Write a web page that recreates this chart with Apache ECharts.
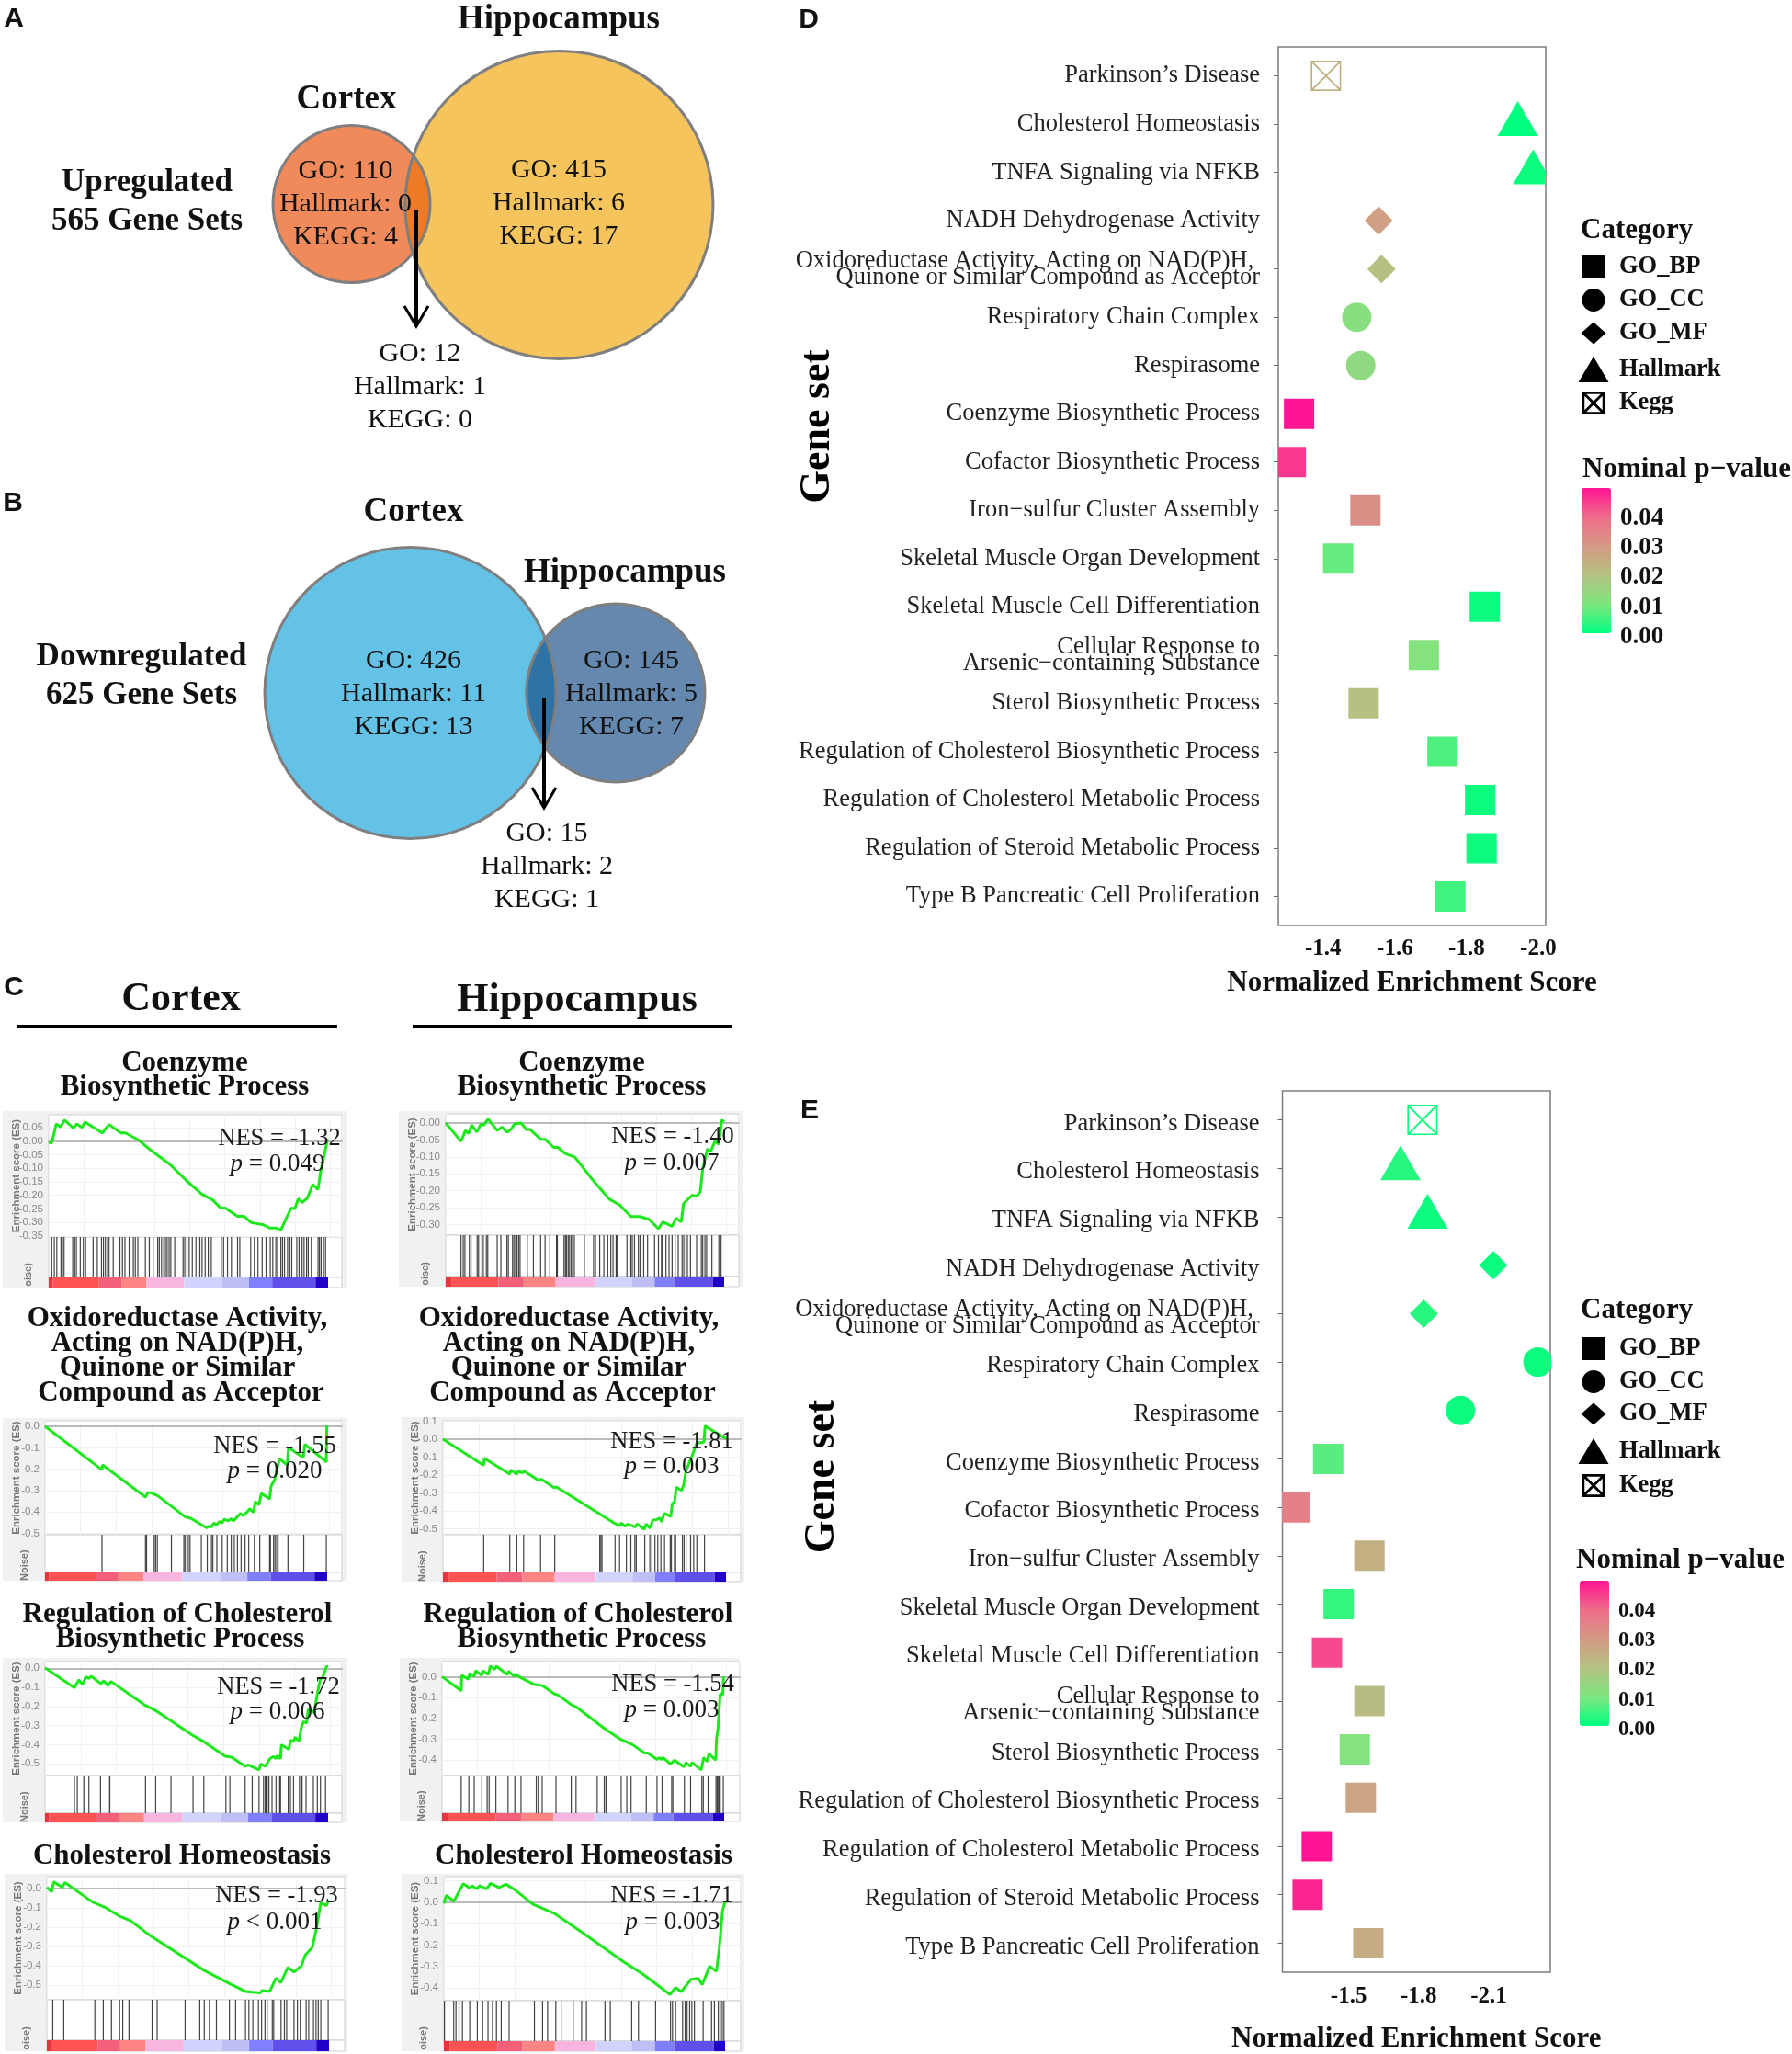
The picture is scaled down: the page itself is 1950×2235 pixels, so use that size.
<!DOCTYPE html>
<html><head><meta charset="utf-8"><style>html,body{margin:0;padding:0;background:#fff}#c{width:1950px;height:2235px}</style>
<script src="https://cdn.jsdelivr.net/npm/echarts@6/dist/echarts.min.js"></script></head><body><div id="c"></div>
<script>
// ---------- Gene-set dot plots (panels D, E) ----------
const geneSets = ["Parkinson’s Disease","Cholesterol Homeostasis","TNFA Signaling via NFKB","NADH Dehydrogenase Activity","Oxidoreductase Activity, Acting on NAD(P)H,\u00A0\nQuinone or Similar Compound as Acceptor","Respiratory Chain Complex","Respirasome","Coenzyme Biosynthetic Process","Cofactor Biosynthetic Process","Iron−sulfur Cluster Assembly","Skeletal Muscle Organ Development","Skeletal Muscle Cell Differentiation","Cellular Response to\nArsenic−containing Substance","Sterol Biosynthetic Process","Regulation of Cholesterol Biosynthetic Process","Regulation of Cholesterol Metabolic Process","Regulation of Steroid Metabolic Process","Type B Pancreatic Cell Proliferation"];
const geneSetTypes = ["Kegg","Hallmark","Hallmark","GO_MF","GO_MF","GO_CC","GO_CC","GO_BP","GO_BP","GO_BP","GO_BP","GO_BP","GO_BP","GO_BP","GO_BP","GO_BP","GO_BP","GO_BP"];
const cortexNES = [-1.395,-1.93,-1.973,-1.542,-1.55,-1.481,-1.492,-1.32,-1.297,-1.505,-1.429,-1.838,-1.668,-1.50,-1.72,-1.825,-1.829,-1.742];
const cortexP = [0.024,0.000,0.001,0.028,0.020,0.012,0.013,0.049,0.045,0.032,0.008,0.001,0.011,0.020,0.006,0.001,0.001,0.005];
const hippoNES = [-1.804,-1.71,-1.826,-2.108,-1.81,-2.299,-1.967,-1.40,-1.257,-1.577,-1.445,-1.395,-1.577,-1.514,-1.54,-1.351,-1.312,-1.572];
const hippoP = [0.001,0.003,0.001,0.001,0.003,0.001,0.001,0.007,0.035,0.024,0.004,0.043,0.021,0.011,0.027,0.049,0.047,0.025];
const pTicks = [0,0.01,0.02,0.03,0.04];
const categoryNames = ["GO_BP","GO_CC","GO_MF","Hallmark","Kegg"];
const cortexXTicks = [-1.4,-1.6,-1.8,-2.0], cortexXMinor = [-1.3,-1.5,-1.7,-1.9];
const hippoXTicks = [-1.5,-1.8,-2.1], hippoXMinor = [-1.35,-1.65,-1.95,-2.25];

// ---------- Venn counts (panels A, B) ----------
const upCortex = ["GO: 110","Hallmark: 0","KEGG: 4"], upHippo = ["GO: 415","Hallmark: 6","KEGG: 17"], upBoth = ["GO: 12","Hallmark: 1","KEGG: 0"];
const downCortex = ["GO: 426","Hallmark: 11","KEGG: 13"], downHippo = ["GO: 145","Hallmark: 5","KEGG: 7"], downBoth = ["GO: 15","Hallmark: 2","KEGG: 1"];

// ---------- GSEA running enrichment score: [rank %, ES] ----------
const curveCtxCoenzyme = [[0,-.005],[1.1,-.007],[2.7,.063],[4.2,.052],[5.7,.077],[8.8,.048],[10.1,.063],[11.9,.05],[13,.07],[19.2,.03],[21.6,.061],[25.8,.03],[27.5,.03],[32.4,.002],[36.3,-.032],[43.4,-.086],[49.5,-.148],[54.9,-.197],[58.8,-.218],[61.5,-.247],[63.2,-.247],[67.6,-.278],[70,-.278],[72.5,-.301],[76.9,-.309],[79.1,-.321],[81.9,-.321],[83,-.331],[84.8,-.29],[86.8,-.247],[88.1,-.25],[89.3,-.213],[90.7,-.227],[92.6,-.21],[94,-.174],[94.5,-.16],[96.4,-.179],[97.3,-.114],[99.1,-.029],[99.8,.007]];
const hitsCtxCoenzyme = [1.1,2,2.9,4.4,4.9,5.5,8.6,9.3,9.9,11.3,12.4,13.2,15.9,17.4,18.9,19.6,20.3,21.1,21.6,23.1,25.5,26.4,27.3,28.8,30.3,31,31.9,34.6,36,37.4,39,39.6,40.4,41.2,41.8,42.4,43.1,43.7,45.1,48.1,48.7,49.5,50.3,51.4,52.7,54.1,54.9,56,57.1,58.2,61.8,62.6,64,65.4,67.6,68.4,72.3,73.6,74.9,76.4,77.8,79.3,80.2,81.3,81.9,83.1,83.7,84.4,85.5,86.3,87,88.8,89.6,90.7,91.4,92.3,92.9,94,96.4,96.9,97.5,98.4,99.1];
const curveHipCoenzyme = [[0,0],[5.5,-.054],[7.1,-.022],[8.2,-.031],[9.3,-.006],[11.2,-.027],[12.6,-.004],[13.7,-.006],[15.2,.012],[18.5,-.022],[20.2,-.012],[22,-.027],[23.6,-.018],[24.7,-.003],[27.1,0],[29.1,-.021],[30.2,-.018],[34.1,-.048],[35.7,-.048],[38.8,-.072],[40.3,-.072],[42.9,-.09],[46.4,-.101],[52.2,-.162],[58.8,-.225],[62.6,-.243],[66.5,-.276],[69.8,-.276],[73.1,-.285],[76.4,-.312],[78,-.292],[81.3,-.305],[82.7,-.281],[84.6,-.292],[85.4,-.238],[88.5,-.213],[90.1,-.216],[91.4,-.204],[92.3,-.135],[94,-.076],[95.1,-.085],[96.7,-.054],[98.1,-.063],[99.2,.009],[100,.003]];
const hitsHipCoenzyme = [5.5,6.3,6.9,8.5,9.1,11.3,11.8,13,13.5,14.6,15.1,18.5,19.8,22,22.5,24,24.5,25.1,25.6,26.2,26.7,29.3,31.5,34.1,35.7,37.4,39.8,40.1,42.5,43,43.4,44,44.5,45.1,45.6,46.2,49.8,53.1,53.8,55.3,56.8,58.2,59.3,60.1,61.2,61.5,65.1,66.5,67,67.8,69.2,69.8,71.1,72.5,75,76.4,77.5,77.8,79.1,80.2,81.3,82.4,83.5,84.9,85.5,86.3,86.8,87.9,90.1,91.8,92.3,93.1,93.7,95.6,98.1,98.9];
const curveCtxOxido = [[0,0],[20.2,-.203],[20.4,-.18],[35.6,-.33],[36.4,-.31],[37.5,-.31],[40,-.324],[49.7,-.423],[51.6,-.429],[57.3,-.474],[58.1,-.466],[59,-.47],[59.8,-.451],[60.8,-.459],[61.9,-.444],[62.7,-.451],[63.6,-.434],[64.9,-.441],[66,-.431],[66.8,-.441],[69.3,-.406],[70.1,-.417],[71.4,-.403],[72.5,-.386],[73.9,-.401],[74.5,-.351],[75.8,-.366],[76.7,-.313],[79.6,-.339],[80.1,-.28],[81.4,-.249],[83.1,-.151],[85.8,-.18],[86.3,-.099],[91.5,-.146],[92.1,-.084],[99.7,-.166],[99.9,.004]];
const hitsCtxOxido = [20.2,35.6,36,38.7,39.2,39.8,44.8,49.2,49.6,50.3,50.8,51.4,55.4,57.5,59,59.5,60.9,62.8,64.6,66,67.1,68.2,69.5,70.9,72.2,74.2,76.1,79.6,79.9,81,81.5,82.1,82.6,86.1,91.7,99.7];
const curveHipOxido = [[0,0],[14.4,-.146],[14.6,-.106],[23.6,-.195],[24,-.171],[26.1,-.197],[26.5,-.178],[28,-.188],[28.7,-.178],[33.9,-.231],[34.7,-.223],[39.3,-.271],[40.1,-.267],[60.5,-.469],[62.6,-.483],[62.9,-.469],[64.5,-.486],[65.3,-.474],[68,-.491],[68.6,-.474],[71.1,-.503],[71.8,-.474],[73.1,-.497],[74.2,-.452],[75.6,-.449],[76.7,-.44],[77.2,-.462],[78.3,-.414],[79.4,-.423],[80.5,-.432],[81,-.36],[81.8,-.354],[82.4,-.269],[84.3,-.286],[85,-.257],[85.9,-.175],[87.5,-.115],[88.6,-.068],[89.7,-.021],[92.2,-.017],[92.6,.074],[100,.003]];
const hitsHipOxido = [14.4,23.6,26.1,28.5,34.5,39.5,55.4,55.8,56.2,60.8,62.4,64.8,66.4,67.8,68.3,71.3,73.1,73.8,74.9,75.9,77,78.3,80.3,80.7,81.8,82.2,84.6,85.2,85.9,87.5,88.6,89.7,92.4];
const curveCtxRegChol = [[0,.003],[10.4,-.102],[11.9,-.061],[13.3,-.085],[14.4,-.045],[15.5,-.053],[16.3,-.042],[19.8,-.081],[20.7,-.065],[22.2,-.09],[23.3,-.069],[35,-.19],[39.3,-.223],[52.3,-.352],[56.1,-.384],[63.7,-.46],[65.9,-.465],[70.7,-.513],[71.8,-.505],[75.6,-.532],[76.2,-.5],[77.8,-.513],[79.4,-.473],[80.8,-.461],[81.6,-.473],[82.1,-.456],[83.2,-.473],[83.5,-.4],[86.1,-.424],[86.8,-.376],[87.9,-.384],[88.3,-.36],[89.7,-.381],[90.5,-.311],[91.3,-.279],[92.4,-.287],[93,-.215],[95.1,-.231],[96.2,-.134],[97.3,-.053],[98,-.053],[99.5,.011],[100,.006]];
const hitsCtxRegChol = [10.4,11.4,13.7,14.1,15.5,19.6,22.3,22.9,35.5,39.1,44.5,52.3,56.1,63.9,65.3,70.7,73.2,75.6,77.2,77.8,78.1,78.5,79.1,80.2,81.6,82.9,83.2,85.9,86.7,87.8,89.9,90.5,90.8,92.2,94.8,96.2,97.3,99.1];
const curveHipRegChol = [[0,0],[6.8,-.068],[7,.006],[9.3,-.012],[9.8,.016],[11.4,.001],[11.9,.028],[14.1,.006],[14.4,.028],[16.4,.01],[17.1,.05],[18.7,.035],[19.3,.05],[23.1,.01],[23.6,.025],[25.6,.001],[26,.013],[28,-.006],[28.5,.001],[32.8,-.038],[35.5,-.043],[39.9,-.083],[41,-.087],[45.8,-.134],[48,-.149],[57.2,-.245],[63.2,-.3],[67.5,-.326],[71.8,-.366],[72.9,-.366],[76.2,-.397],[76.9,-.388],[77.8,-.397],[78.3,-.388],[81,-.419],[82.4,-.4],[85.7,-.432],[86.5,-.412],[88.1,-.43],[88.6,-.412],[91.9,-.447],[92.7,-.388],[94,-.407],[94.6,-.37],[97,-.4],[97.3,-.297],[97.8,-.252],[98.6,-.083],[99.5,-.087],[99.8,.001]];
const hitsHipRegChol = [6.8,9.5,11.4,14.1,16,16.7,19.1,23.4,25.8,28,33.4,34.1,35.5,40.4,45.8,47.5,55,57.5,58.1,63.5,65.5,67,72.4,76.2,78,81.4,81.8,85.9,88.1,92.1,92.6,94.3,97.1,97.5,97.8,98.2,98.6,99.7];
const curveCtxCholHomeo = [[0,.005],[1.7,-.019],[2.4,.033],[5.5,.005],[6.4,.029],[16.2,-.071],[20.5,-.098],[25.6,-.143],[29.6,-.167],[36.8,-.246],[55.8,-.424],[65.2,-.495],[70.4,-.532],[75.6,-.54],[76.4,-.527],[79,-.532],[81.2,-.463],[82.9,-.487],[85.4,-.408],[87.6,-.432],[90.2,-.4],[91.6,-.344],[94.1,-.305],[95.4,-.217],[97.1,-.075],[99.1,-.09],[99.8,-.06]];
const hitsCtxCholHomeo = [2.1,6,17,20,22.9,25.8,26.9,29.1,37.3,39.1,49,54.2,55.8,57.6,60.1,64.7,66.9,70.4,71.6,73,75,76.1,77.3,78.1,79.9,80.4,83,84.2,85,87.6,88.8,89.8,91.9,92.8,94.5,95.4,96.2,97.1,99.7];
const curveHipCholHomeo = [[0,-.006],[.9,.033],[3.5,.004],[6.9,.087],[9.2,.066],[10,.077],[11.8,.062],[12.6,.077],[15.2,.062],[16.6,.088],[19.6,.069],[22.1,.084],[25.6,.055],[31.7,-.01],[39.4,-.053],[49.8,-.147],[63.7,-.277],[70.6,-.335],[75.8,-.386],[80.4,-.432],[82.4,-.4],[84.4,-.419],[87.9,-.361],[90.5,-.357],[91.9,-.386],[94.5,-.299],[96.9,-.324],[97.9,-.22],[99.1,-.039],[100,.004]];
const hitsHipCholHomeo = [.2,3.5,4.3,5.4,6.6,9.2,11.9,13.8,15.7,17.3,18.7,20.4,23.2,32.2,35.1,36.9,39.8,41.7,46,49,50.7,57.3,59.2,66.8,69.2,75.3,80.6,81.3,82.4,84.9,85.8,86.5,87.4,88.2,89.1,92.2,95.2,96.2,97.6,98.3,99,99.6];
const esTicks2 = [0.05,0,-0.05,-0.10,-0.15,-0.20,-0.25,-0.30,-0.35], esTicks3 = [0,-0.05,-0.10,-0.15,-0.20,-0.25,-0.30];
const esTicks4 = [0,-0.1,-0.2,-0.3,-0.4,-0.5], esTicks5 = [0.1,0,-0.1,-0.2,-0.3,-0.4,-0.5], esTicks6 = [0,-0.1,-0.2,-0.3,-0.4], esTicks7 = [0.1,0,-0.1,-0.2,-0.3,-0.4];
const rankSegmentsCtx = [[0,1.5,0],[1.5,18,1],[18,26,2],[26,35,3],[35,48.5,4],[48.5,62,5],[62,71.7,6],[71.7,80,7],[80,95.5,8],[95.5,100,9]];
const rankSegmentsHip = [[0,2,0],[2,19,1],[19,28,2],[28,39.5,3],[39.5,54,4],[54,67,5],[67,75,6],[75,82,7],[82,96,8],[96,100,9]];
const rankColors = ["#E6353C","#FF5353","#F2607A","#FF8484","#F8B6DF","#D3D3FF","#BFBFF6","#8080FF","#5F50EC","#2300C8"];

// ---------- layout ----------
const serif = '"Liberation Serif"';
const G = [], grids = [], xAxes = [], yAxes = [], series = [], legends = [], visualMaps = [];
function T(text, x, y, size, o) { o = o || {};
  G.push({ type:'text', z:o.z||20, rotation:o.rot||0, x, y, style:{ text, x:0, y:0, fill:o.fill||'#111', align:o.align||'center', verticalAlign:'middle',
    font:(o.italic?'italic ':'')+(o.bold?'bold ':'')+size+'px '+(o.family||serif), rich:o.rich, lineHeight:o.lh } });
}
function venn(c1, c2, col1, col2, colLens) {
  const d = c2[0]-c1[0], a = (d*d+c1[2]*c1[2]-c2[2]*c2[2])/(2*d), h = Math.sqrt(c1[2]*c1[2]-a*a);
  const t1 = Math.atan2(h,a), t2 = Math.atan2(h,d-a), pts = [];
  for (let i=0;i<=48;i++){const t=-t1+2*t1*i/48; pts.push([c1[0]+c1[2]*Math.cos(t),c1[1]+c1[2]*Math.sin(t)]);}
  for (let i=0;i<=48;i++){const t=Math.PI-t2+2*t2*i/48; pts.push([c2[0]+c2[2]*Math.cos(t),c2[1]+c2[2]*Math.sin(t)]);}
  const st = {stroke:'#7f7f7f',lineWidth:3};
  G.push({type:'circle',z:1,shape:{cx:c1[0],cy:c1[1],r:c1[2]},style:{fill:col1,...st}});
  G.push({type:'circle',z:2,shape:{cx:c2[0],cy:c2[1],r:c2[2]},style:{fill:col2,...st}});
  G.push({type:'polygon',z:3,shape:{points:pts},style:{fill:colLens,...st}});
}
function arrow(x,y1,y2){
  G.push({type:'line',z:5,shape:{x1:x,y1:y1,x2:x,y2:y2},style:{stroke:'#000',lineWidth:4}});
  G.push({type:'polyline',z:5,shape:{points:[[x-13,y2-22],[x,y2],[x+13,y2-22]]},style:{stroke:'#000',lineWidth:3,fill:null}});
}
function lines(arr,x,ys,size){arr.forEach((s,i)=>T(s,x,ys[i],size));}
venn([382.5,222,85.5],[608.5,223,167.5],'#F08A5B','#F6C45D','#EF7A26');
venn([446.5,754,158.5],[670,754,97],'#63C2E6','#6488AE','#2F72A6');
arrow(453,229,355); arrow(592,759,879);
const panelLetter={bold:true,family:'"Liberation Sans"'};
T('A',15,21,30,panelLetter);T('B',14,548,30,panelLetter);T('C',15,1075,30,panelLetter);T('D',880,22,30,panelLetter);T('E',881,1209,30,panelLetter);
T('Hippocampus',608,21,37,{bold:true});T('Cortex',377,108,37,{bold:true});
T('Upregulated',160,199,35,{bold:true});T('565 Gene Sets',160,241,35,{bold:true});
lines(upCortex,376,[186,222,258],30);lines(upHippo,608,[185,221,257],30);lines(upBoth,457,[385,421,457],30);
T('Cortex',450,557,37,{bold:true});T('Hippocampus',680,623,37,{bold:true});
T('Downregulated',154,715,35,{bold:true});T('625 Gene Sets',154,757,35,{bold:true});
lines(downCortex,450,[719,755,791],30);lines(downHippo,687,[719,755,791],30);lines(downBoth,595,[907,943,979],30);
T('Cortex',197,1088,44,{bold:true});T('Hippocampus',628,1089,44,{bold:true});
G.push({type:'rect',z:5,shape:{x:18,y:1115,width:349,height:4},style:{fill:'#000'}});
G.push({type:'rect',z:5,shape:{x:449,y:1115,width:348,height:4},style:{fill:'#000'}});
const ttl=(s,x,y)=>T(s,x,y,31,{bold:true});
ttl('Coenzyme',201,1157);ttl('Biosynthetic Process',201,1183);ttl('Coenzyme',633,1157);ttl('Biosynthetic Process',633,1183);
['Oxidoreductase Activity,','Acting on NAD(P)H,','Quinone or Similar','Compound as Acceptor'].forEach((s,i)=>{const y=[1435,1462,1489,1516][i],dx=[0,0,0,4][i];ttl(s,193+dx,y);ttl(s,619+dx,y);});
ttl('Regulation of Cholesterol',193,1757);ttl('Biosynthetic Process',196,1784);ttl('Regulation of Cholesterol',629,1757);ttl('Biosynthetic Process',633,1784);
ttl('Cholesterol Homeostasis',198,2020);ttl('Cholesterol Homeostasis',635,2020);

// GSEA panels: box = [bgL,bgR,bgT,bgB, plotL,plotR,top,esBot,hitBot,barBot,barR]
const panels = [
 {curve:curveCtxCoenzyme,hits:hitsCtxCoenzyme,ticks:esTicks2,dec:2,yr:[-.354,.097],box:[3,378,1209,1401,53,372,1213,1346,1390,1401,357],seg:rankSegmentsCtx,nes:'NES = -1.32',p:'= 0.049',t:[304,1239,302,1267],noise:'oise)'},
 {curve:curveHipCoenzyme,hits:hitsHipCoenzyme,ticks:esTicks3,dec:2,yr:[-.331,.027],box:[434,808,1209,1400,485,804,1212,1344,1389,1400,788],seg:rankSegmentsHip,nes:'NES = -1.40',p:'= 0.007',t:[732,1237,731,1266],noise:'oise)'},
 {curve:curveCtxOxido,hits:hitsCtxOxido,ticks:esTicks4,dec:1,yr:[-.506,.026],box:[3,378,1543,1720,49,372,1546,1670,1711,1720,356],seg:rankSegmentsCtx,nes:'NES = -1.55',p:'= 0.020',t:[299,1574,299,1601],noise:'Noise)'},
 {curve:curveHipOxido,hits:hitsHipOxido,ticks:esTicks5,dec:1,yr:[-.534,.103],box:[437,810,1542,1721,482,806,1546,1670,1711,1721,790],seg:rankSegmentsHip,nes:'NES = -1.81',p:'= 0.003',t:[731,1569,731,1596],noise:'Noise)'},
 {curve:curveCtxRegChol,hits:hitsCtxRegChol,ticks:esTicks4,dec:1,yr:[-.561,.035],box:[3,378,1804,1983,49,372,1808,1932,1973,1983,357],seg:rankSegmentsCtx,nes:'NES = -1.72',p:'= 0.006',t:[303,1836,302,1863],noise:'Noise)'},
 {curve:curveHipRegChol,hits:hitsHipRegChol,ticks:esTicks6,dec:1,yr:[-.474,.072],box:[435,805,1804,1982,481,805,1808,1932,1973,1982,788],seg:rankSegmentsHip,nes:'NES = -1.54',p:'= 0.003',t:[732,1833,731,1861],noise:'Noise)'},
 {curve:curveCtxCholHomeo,hits:hitsCtxCholHomeo,ticks:esTicks4,dec:1,yr:[-.575,.06],box:[5,378,2039,2232,51,375,2042,2176,2220,2232,358],seg:rankSegmentsCtx,nes:'NES = -1.93',p:'< 0.001',t:[301,2063,299,2092],noise:'oise)'},
 {curve:curveHipCholHomeo,hits:hitsHipCholHomeo,ticks:esTicks7,dec:1,yr:[-.461,.12],box:[437,810,2039,2232,483,806,2042,2177,2221,2232,789],seg:rankSegmentsHip,nes:'NES = -1.71',p:'= 0.003',t:[731,2063,732,2092],noise:'oise)'}
];
function addGrid(l,r,t,b,extraX,extraY,bg){
  const gi=grids.length;
  grids.push({left:l,top:t,width:r-l,height:b-t,show:true,backgroundColor:bg||'#fff',borderColor:'#cfcfcf',borderWidth:1});
  xAxes.push(Object.assign({type:'value',gridIndex:gi,axisLabel:{show:false},axisTick:{show:false},axisLine:{show:false},splitLine:{show:false}},extraX));
  yAxes.push(Object.assign({type:'value',gridIndex:gi,axisLabel:{show:false},axisTick:{show:false},axisLine:{show:false},splitLine:{show:false}},extraY));
  return xAxes.length-1;
}
panels.forEach(p=>{
  const [bl,br,bt,bb,pl,pr,t,eb,hb,bab,barR]=p.box, maxX=(pr-pl)/(barR-pl)*100;
  G.push({type:'rect',z:-1,shape:{x:bl,y:bt,width:br-bl,height:bb-bt},style:{fill:'#f1f1f1'}});
  let i=addGrid(pl,pr,t,eb,
    {min:0,max:maxX,interval:12.6,splitLine:{show:true,lineStyle:{color:'#f1f1f1',width:1}},axisLine:{show:true,onZero:true,lineStyle:{color:'#bbbbbb',width:2}}},
    {min:p.yr[0],max:p.yr[1],name:'Enrichment score (ES)',nameLocation:'middle',nameMoveOverlap:false,nameRotate:90,nameGap:pl-bl-21,nameTextStyle:{color:'#777',fontSize:11.5,fontWeight:'bold',fontFamily:'"Liberation Sans"'},
     splitLine:{show:true,lineStyle:{color:'#f1f1f1',width:1}},axisTick:{show:false,customValues:p.ticks},axisLabel:{show:true,customValues:p.ticks,margin:6,color:'#8a8a8a',fontSize:11.5,fontFamily:'"Liberation Sans"',formatter:v=>v.toFixed(p.dec)}});
  series.push({type:'line',xAxisIndex:i,yAxisIndex:i,data:p.curve,showSymbol:false,symbol:'none',lineStyle:{color:'#1CE81C',width:3},animation:false,silent:true,z:3});
  i=addGrid(pl,pr,eb,hb,{min:0,max:maxX},{min:0,max:1});
  series.push({type:'bar',xAxisIndex:i,yAxisIndex:i,barWidth:1.2,data:p.hits.map(x=>[x,1]),itemStyle:{color:'#222',opacity:.85},animation:false,silent:true});
  i=addGrid(pl,pr,hb,bab,{min:0,max:maxX},{min:0,max:1});
  series.push({type:'custom',xAxisIndex:i,yAxisIndex:i,encode:{x:[0,1]},data:p.seg,silent:true,animation:false,
    renderItem:(params,api)=>{const a=api.coord([api.value(0),1]),b=api.coord([api.value(1),0]);return{type:'rect',shape:{x:a[0],y:a[1],width:b[0]-a[0],height:b[1]-a[1]},style:{fill:rankColors[api.value(2)]}};}});
  T(p.noise,pl-22,bab-p.noise.length*2.8,11,{rot:Math.PI/2,fill:'#777',bold:true,family:'"Liberation Sans"',z:6});
  T(p.nes,p.t[0],p.t[1],26.5,{fill:'#1a1a1a'});
  T('{i|p} '+p.p,p.t[2],p.t[3],27,{fill:'#1a1a1a',rich:{i:{fontStyle:'italic',fontSize:27,fontFamily:serif,fill:'#1a1a1a'}}});
});

// Dot plots
const keggFill='M0 0L100 0L100 100L0 100ZM5 5L5 95L95 95L95 5ZM0 4L4 0L100 96L96 100ZM96 0L100 4L4 100L0 96Z';
const keggLegend='path://M0 0L100 0L100 100L0 100ZM11 11L11 89L89 89L89 11ZM4 12L12 4L96 88L88 96ZM88 4L96 12L12 96L4 88Z';
const markShape={GO_BP:{d:'M0 0L100 0L100 100L0 100Z',w:33,h:33,off:0},GO_CC:{circle:16},GO_MF:{d:'M50 0L100 50L50 100L0 50Z',w:31,h:31,off:0},Hallmark:{d:'M50 0L100 100L0 100Z',w:44,h:38,off:-6},Kegg:{d:keggFill,w:33,h:33,off:0}};
const legendOf={GO_BP:{s:'rect',w:25,h:25},GO_CC:{s:'circle',w:25,h:25},GO_MF:{s:'diamond',w:27,h:24},Hallmark:{s:'triangle',w:33,h:28},Kegg:{s:keggLegend,w:25,h:25}};
function dotPlot(cfg){
  const gi=grids.length, cats=geneSets.map((_,i)=>i), labelAt=cats.map(i=>i+cfg.labelShift);
  grids.push({left:cfg.l,top:cfg.t,width:cfg.r-cfg.l,height:cfg.b-cfg.t,show:true,backgroundColor:'#fff',borderColor:'#7d7d7d',borderWidth:1.5,z:1});
  const xBase={type:'value',gridIndex:gi,inverse:true,min:cfg.xMin,max:cfg.xMax};
  xAxes.push({...xBase,axisLine:{show:false},axisTick:{show:true,length:5,lineStyle:{color:'#666'},customValues:cfg.ticks},
    splitLine:{show:true,lineStyle:{color:'#ececec',width:2}},
    axisLabel:{show:true,customValues:cfg.ticks,margin:cfg.xMargin,padding:[0,cfg.xPad,0,0],color:'#111',fontWeight:'bold',fontSize:25,fontFamily:serif,formatter:v=>v.toFixed(1)},
    name:'Normalized Enrichment Score',nameLocation:'middle',nameMoveOverlap:false,nameGap:cfg.nameGap,nameTextStyle:{color:'#111',fontWeight:'bold',fontSize:31,fontFamily:serif}});
  const xi=xAxes.length-1;
  xAxes.push({...xBase,axisLine:{show:false},axisLabel:{show:false},axisTick:{show:false,customValues:cfg.minor},splitLine:{show:true,lineStyle:{color:'#f2f2f2',width:1.5}}});
  yAxes.push({type:'value',gridIndex:gi,inverse:true,min:-0.6,max:17.6,axisLine:{show:false},
    axisTick:{show:true,length:5,lineStyle:{color:'#666'},customValues:cats},splitLine:{show:true,lineStyle:{color:'#ececec',width:2}},
    axisLabel:{show:true,customValues:labelAt,margin:cfg.yMargin,color:'#222',fontSize:26.5,lineHeight:18,fontFamily:serif,formatter:v=>geneSets[Math.round(v)]},
    name:'Gene set',nameLocation:'middle',nameMoveOverlap:false,nameRotate:90,nameGap:cfg.gap,nameTextStyle:{color:'#000',fontWeight:'bold',fontSize:46,fontFamily:serif,padding:[0,0,0,cfg.gpad]}});
  const yi=yAxes.length-1, sIdx=[];
  categoryNames.forEach(name=>{
    const m=markShape[name], data=[];
    geneSets.forEach((_,i)=>{ if(geneSetTypes[i]===name) data.push([cfg.nes[i],i,cfg.p[i]]); });
    sIdx.push(series.length);
    series.push({type:'custom',name,xAxisIndex:xi,yAxisIndex:yi,data,clip:true,animation:false,silent:true,z:4,encode:{x:0,y:1},
      renderItem:(params,api)=>{
        const c=api.coord([api.value(0),api.value(1)]), fill=api.visual('color');
        if(m.circle) return {type:'circle',shape:{cx:c[0],cy:c[1],r:m.circle},style:{fill}};
        return {type:'path',shape:{pathData:m.d,x:c[0]-m.w/2,y:c[1]-m.h/2+m.off,width:m.w,height:m.h,layout:'cover'},style:{fill}};
      }});
  });
  visualMaps.push({type:'continuous',seriesIndex:sIdx,dimension:2,min:0,max:0.049,calculable:false,text:null,showLabel:false,left:cfg.barL-16,top:cfg.barT-16,itemWidth:32,itemHeight:158,
    inRange:{color:['#00FF7F','#7DE67F','#B4C282','#D49A84','#EF6C8A','#FF1493']},textStyle:{color:'#fff',fontSize:1}});
  T('Category',cfg.catX,cfg.catY,31,{bold:true,align:'left'});
  T('Nominal p−value',cfg.nomX,cfg.nomY,31,{bold:true,align:'left'});
  pTicks.forEach(v=>T(v.toFixed(2),cfg.barL+41,cfg.barT+161-v/0.049*158,cfg.pSize,{bold:true,align:'left'}));
  categoryNames.forEach((name,i)=>{
    const L=legendOf[name];
    legends.push({data:[{name,icon:L.s}],left:cfg.symX-L.w/2,top:cfg.legY[i]-Math.max(L.h,26)/2,itemWidth:L.w,itemHeight:L.h,itemStyle:{color:'#000',borderWidth:0,opacity:1},selectedMode:false,
      textStyle:{color:'#111',fontWeight:'bold',fontSize:26.5,fontFamily:serif,padding:[0,0,0,28-L.w/2-5]}});
  });
}
dotPlot({l:1391,r:1682,t:51,b:1007,xMin:-2.008,xMax:-1.262,ticks:cortexXTicks,minor:cortexXMinor,xMargin:13,xPad:10,nameGap:47,gap:478,gpad:130,yMargin:20,labelShift:0,nes:cortexNES,p:cortexP,
  barL:1722,barT:532,catX:1720,catY:251,nomX:1722,nomY:511,pSize:27,symX:1729,legY:[285,321,357,397,433]});
dotPlot({l:1395.5,r:1687,t:1187,b:2153,xMin:-2.352,xMax:-1.204,ticks:hippoXTicks,minor:hippoXMinor,xMargin:14,xPad:6,nameGap:57,gap:477,gpad:120,yMargin:25,labelShift:0.08,nes:hippoNES,p:hippoP,
  barL:1720,barT:1721,catX:1720,catY:1426,nomX:1715,nomY:1698,pSize:23,symX:1729,legY:[1462,1498,1533,1574,1611]});

const chart=echarts.init(document.getElementById('c'),null,{renderer:'canvas'});
chart.setOption({animation:false,backgroundColor:'#fff',tooltip:{show:false},grid:grids,xAxis:xAxes,yAxis:yAxes,series,legend:legends,visualMap:visualMaps,graphic:{elements:G}});
</script></body></html>
